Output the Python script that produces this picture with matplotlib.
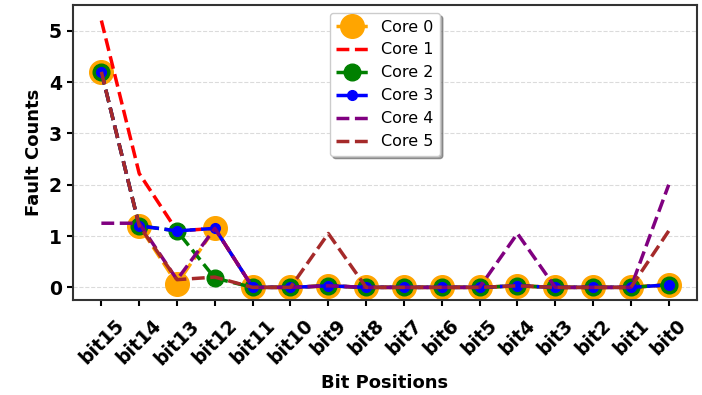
import numpy as np
import matplotlib
matplotlib.use("Agg")
import matplotlib.pyplot as plt

bits = ["bit15", "bit14", "bit13", "bit12", "bit11", "bit10", "bit9", "bit8",
        "bit7", "bit6", "bit5", "bit4", "bit3", "bit2", "bit1", "bit0"]

core0 = [4.2, 1.2, 0.07, 1.15, 0, 0, 0.03, 0, 0, 0, 0, 0.03, 0, 0, 0, 0.05]
core1 = [5.2, 2.22, 1.1, 1.15, 0, 0, 0.03, 0, 0, 0, 0, 0.03, 0, 0, 0, 0.05]
core2 = [4.2, 1.2, 1.1, 0.18, 0, 0, 0.03, 0, 0, 0, 0, 0.03, 0, 0, 0, 0.05]
core3 = [4.2, 1.2, 1.1, 1.15, 0, 0, 0.03, 0, 0, 0, 0, 0.03, 0, 0, 0, 0.05]
core4 = [1.25, 1.25, 0.15, 1.15, 0, 0, 0.03, 0, 0, 0, 0, 1.05, 0, 0, 0, 2.0]
core5 = [4.2, 1.2, 0.15, 0.2, 0, 0, 1.05, 0, 0, 0, 0, 0.03, 0, 0, 0, 1.1]

x = np.arange(len(bits))

fig, ax = plt.subplots(figsize=(7.02, 3.95), dpi=100)

lw = 2.5
ax.plot(x, core0, '--o', color='orange', lw=lw, markersize=17, label='Core 0')
ax.plot(x, core1, '--', color='red', lw=lw, label='Core 1')
ax.plot(x, core2, '--o', color='green', lw=lw, markersize=12, label='Core 2')
ax.plot(x, core3, '--o', color='blue', lw=lw, markersize=7, label='Core 3')
ax.plot(x, core4, '--', color='purple', lw=lw, label='Core 4')
ax.plot(x, core5, '--', color='brown', lw=lw, label='Core 5')

ax.set_xticks(x)
ax.set_xticklabels(bits, rotation=45, ha='center', fontsize=13.5, fontweight='bold')
ax.set_yticks(range(6))
ax.set_yticklabels([str(i) for i in range(6)], fontsize=13.5, fontweight='bold')
ax.set_ylim(-0.25, 5.5)
ax.set_xlabel('Bit Positions', fontsize=13, fontweight='bold', labelpad=4)
ax.set_ylabel('Fault Counts', fontsize=13, fontweight='bold')
ax.yaxis.grid(True, linestyle='--', color='lightgray', alpha=0.8)
ax.set_axisbelow(True)
for s in ax.spines.values():
    s.set_linewidth(1.5)
    s.set_color('#333333')
ax.tick_params(width=1.5, length=4.5)
ax.tick_params(axis='x', pad=7)

ax.legend(loc='upper center', fontsize=11.5, shadow=True, handlelength=2.0)

fig.subplots_adjust(left=0.104, right=0.993, top=0.987, bottom=0.24)
fig.savefig('out.png', dpi=100)
